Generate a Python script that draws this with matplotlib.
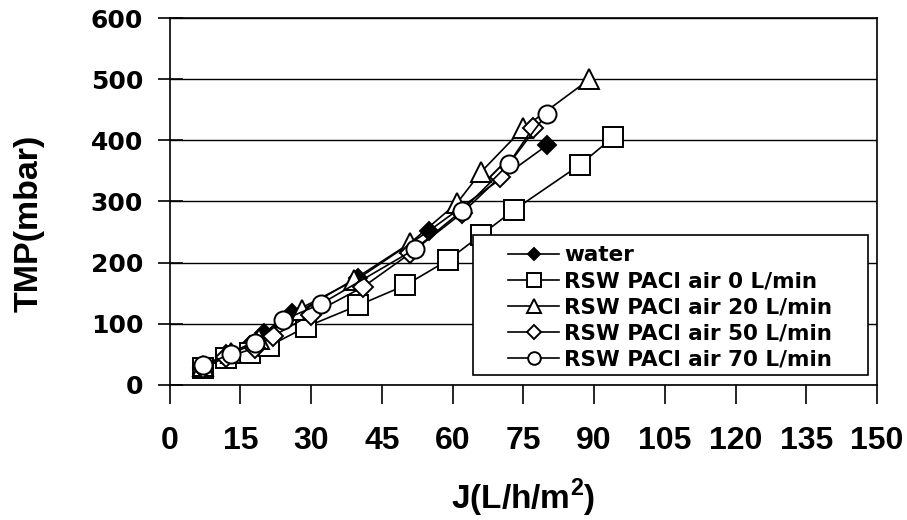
import matplotlib
matplotlib.use('Agg')
import matplotlib.pyplot as plt
from matplotlib.patches import Rectangle

# data
water_x = [7, 12, 17, 20, 26, 40, 55, 80]
water_y = [30, 50, 65, 85, 118, 174, 252, 392]

air0_x = [7, 12, 17, 21, 29, 40, 50, 59, 66, 73, 87, 94]
air0_y = [27, 44, 52, 63, 95, 130, 163, 204, 245, 286, 360, 405]

air20_x = [7, 13, 19, 28, 39, 51, 61, 66, 75, 89]
air20_y = [30, 52, 75, 122, 172, 232, 298, 348, 420, 500]

air50_x = [7, 12, 18, 22, 30, 41, 51, 62, 70, 77]
air50_y = [28, 45, 60, 80, 115, 160, 215, 281, 340, 420]

air70_x = [7, 13, 18, 24, 32, 52, 62, 72, 80]
air70_y = [32, 50, 68, 106, 132, 222, 285, 362, 444]

xticks = [0, 15, 30, 45, 60, 75, 90, 105, 120, 135, 150]
yticks = [0, 100, 200, 300, 400, 500, 600]

plt.rcParams['font.family'] = ['Liberation Sans', 'DejaVu Sans']
plt.rcParams['font.weight'] = 'bold'
plt.rcParams['mathtext.fontset'] = 'custom'
plt.rcParams['mathtext.bf'] = 'Liberation Sans:bold'
plt.rcParams['mathtext.rm'] = 'Liberation Sans:bold'

fig = plt.figure(figsize=(9.07, 5.2), dpi=100)
ax = fig.add_axes([0.187, 0.26, 0.78, 0.705])

kw = dict(color='black', lw=1.2, mec='black', mew=1.4)
ax.plot(water_x, water_y, marker='D', ms=9, mfc='black', label='water', **kw)
ax.plot(air0_x, air0_y, marker='s', ms=14, mfc='white', label='RSW PACl air 0 L/min', **kw)
ax.plot(air20_x, air20_y, marker='^', ms=15, mfc='white', label='RSW PACl air 20 L/min', **kw)
ax.plot(air50_x, air50_y, marker='D', ms=10, mfc='white', label='RSW PACl air 50 L/min', **kw)
ax.plot(air70_x, air70_y, marker='o', ms=13, mfc='white', label='RSW PACl air 70 L/min', **kw)

ax.set_xlim(0, 150)
ax.set_ylim(0, 600)
ax.set_xticks(xticks)
ax.set_yticks(yticks)
ax.yaxis.grid(True, color='black', lw=1)
ax.set_axisbelow(True)
for s in ax.spines.values():
    s.set_color('black')
    s.set_linewidth(1.2)

ax.tick_params(axis='x', direction='out', length=14, width=1.2, pad=16)
ax.tick_params(axis='y', direction='inout', length=18, width=1.2, pad=10)
for lab in ax.get_xticklabels():
    lab.set_fontsize(23)
    lab.set_fontweight('bold')
for lab in ax.get_yticklabels():
    lab.set_fontsize(18)
    lab.set_fontweight('bold')
    lab.set_family('DejaVu Sans')

ax.set_xlabel('J(L/h/m$^{\\mathbf{2}}$)', fontsize=24, fontweight='bold')
ax.set_ylabel('TMP(mbar)', fontsize=24.5, fontweight='bold')
ax.xaxis.set_label_coords(0.5, -0.25)
ax.yaxis.set_label_coords(-0.177, 0.441)

# legend box
box = Rectangle((0.429, 0.027), 0.558, 0.382, transform=ax.transAxes,
                facecolor='white', edgecolor='black', lw=1.2, zorder=5)
ax.add_patch(box)

leg = ax.legend(loc='upper left', bbox_to_anchor=(0.478, 0.380), borderaxespad=0,
                frameon=False, prop={'family': 'DejaVu Sans', 'size': 15.5, 'weight': 'bold'},
                handlelength=2.4, handletextpad=0.23, labelspacing=0.28, borderpad=0,
                markerscale=0.7)
leg.set_zorder(6)

fig.savefig('out.png', dpi=100)
